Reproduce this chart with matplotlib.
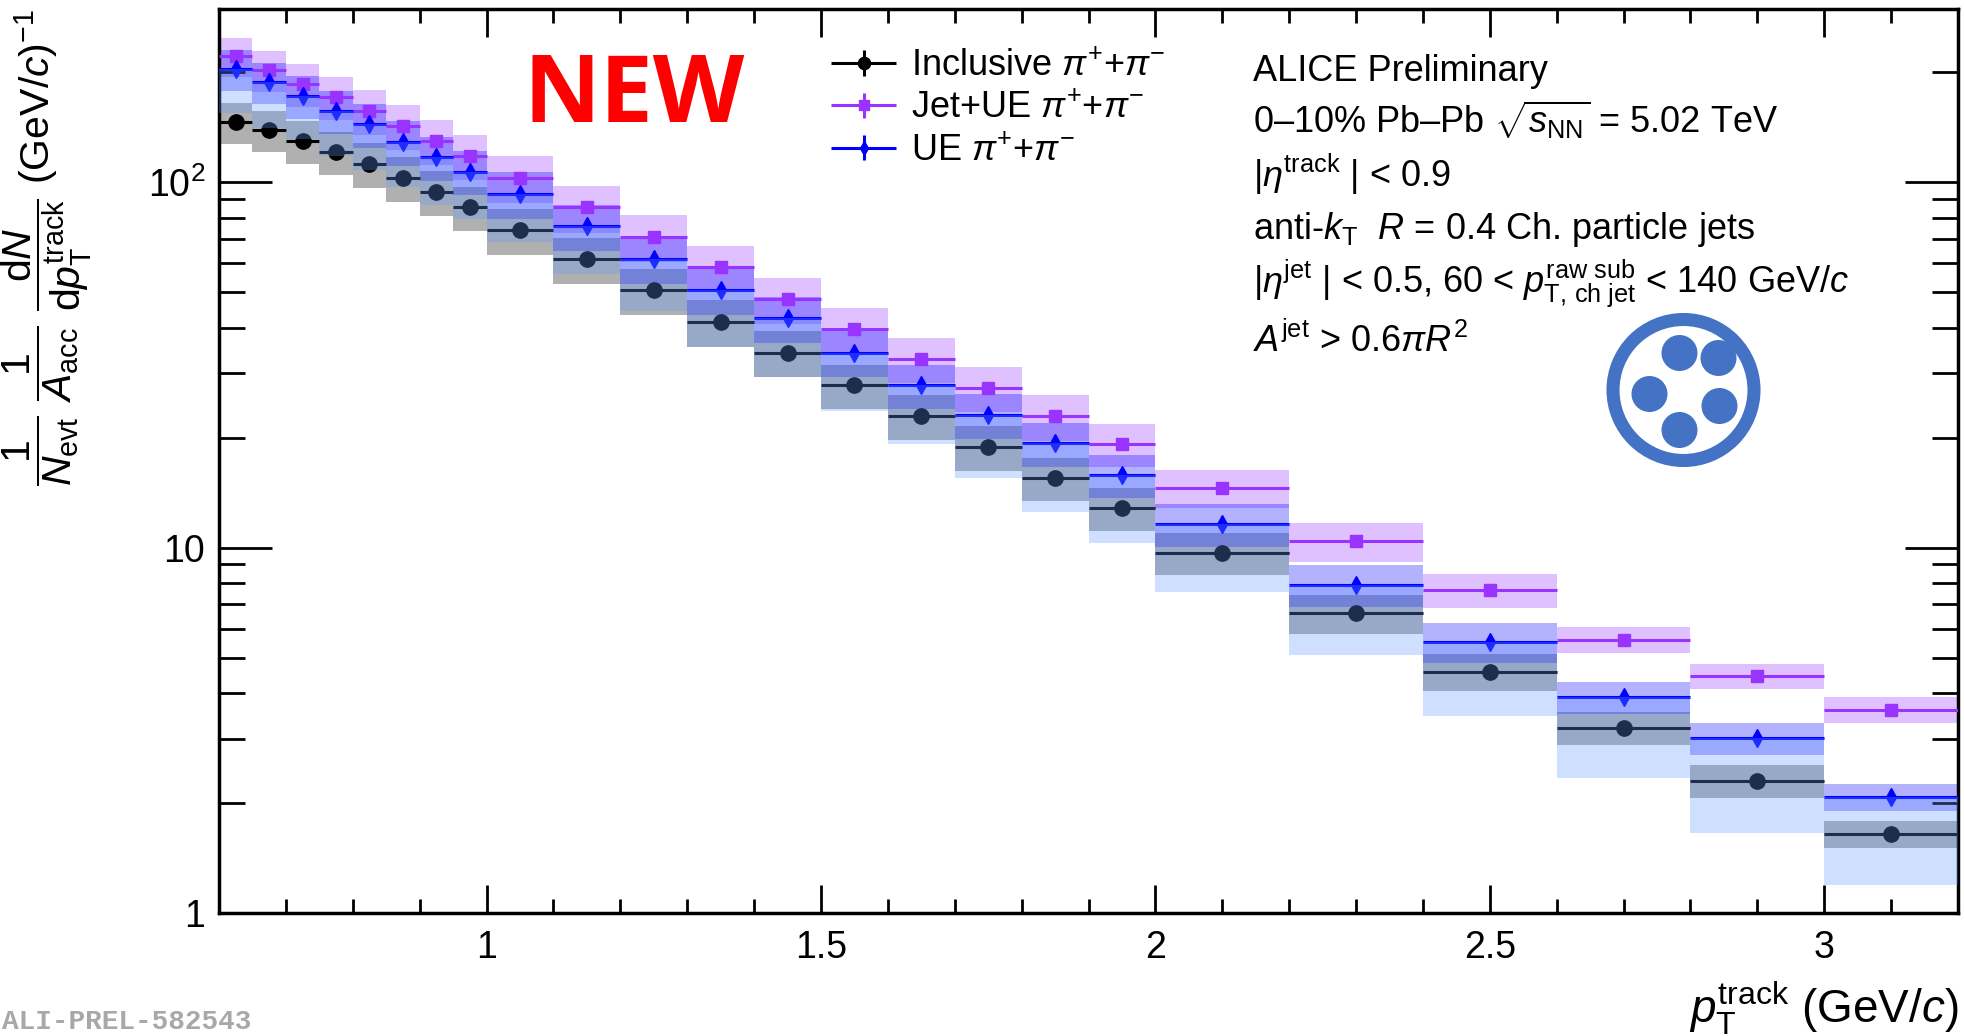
import numpy as np
import matplotlib
matplotlib.use('Agg')
import matplotlib.pyplot as plt
from matplotlib.ticker import MultipleLocator, LogLocator, FuncFormatter, NullFormatter, FormatStrFormatter
from matplotlib.legend_handler import HandlerErrorbar
from matplotlib.container import ErrorbarContainer
from matplotlib.patches import Circle

plt.rcParams['font.family'] = ['Liberation Sans', 'DejaVu Sans']
plt.rcParams['mathtext.fontset'] = 'custom'
plt.rcParams['mathtext.rm'] = 'Liberation Sans'
plt.rcParams['mathtext.it'] = 'Liberation Sans:italic'
plt.rcParams['mathtext.bf'] = 'Liberation Sans:bold'

# pT^track bins (GeV/c)
bin_edges = [0.6, 0.65, 0.7, 0.75, 0.8, 0.85, 0.9, 0.95, 1.0,
             1.1, 1.2, 1.3, 1.4, 1.5, 1.6, 1.7, 1.8, 1.9, 2.0,
             2.2, 2.4, 2.6, 2.8, 3.0, 3.2]

# yields
incl = [146, 139, 130, 121, 112, 103, 94.1, 85.4, 73.9, 61.5, 50.6, 41.5,
        34.2, 27.8, 22.9, 18.9, 15.5, 12.8, 9.68, 6.62, 4.58, 3.21, 2.30, 1.65]
jet_ue = [221, 203, 186, 171, 157, 143, 130, 118, 103, 85.3, 70.8, 58.5,
          47.8, 39.6, 32.9, 27.3, 22.9, 19.2, 14.6, 10.4, 7.67, 5.60, 4.45, 3.60]
ue = [204, 188, 172, 157, 144, 129, 117, 107, 92.9, 75.7, 61.6, 50.7,
      42.4, 34.2, 27.8, 23.1, 19.3, 15.8, 11.6, 7.92, 5.52, 3.90, 3.01, 2.08]

# relative systematic uncertainties (box half heights)
incl_sys = [0.13, 0.13, 0.135, 0.135, 0.14, 0.14, 0.14, 0.14, 0.146, 0.146, 0.145, 0.145,
            0.145, 0.14, 0.14, 0.14, 0.135, 0.135, 0.131, 0.122, 0.115, 0.104, 0.103, 0.085]
jet_ue_sys = [0.123, 0.129, 0.134, 0.136, 0.141, 0.141, 0.141, 0.141, 0.148, 0.148, 0.148, 0.144,
              0.145, 0.146, 0.141, 0.141, 0.144, 0.134, 0.12, 0.122, 0.106, 0.083, 0.078, 0.083]
ue_sys = [0.13, 0.13, 0.135, 0.135, 0.14, 0.14, 0.14, 0.14, 0.145, 0.145, 0.145, 0.145,
          0.145, 0.145, 0.14, 0.14, 0.14, 0.135, 0.132, 0.129, 0.124, 0.10, 0.10, 0.086]
# lower edge of the one-sided UE band (upper edge = UE value)
ue_band_low = [155, 141, 131, 118, 108, 96.8, 86.6, 79.2, 68.7, 56.0, 44.4, 35.5,
               29.3, 23.6, 19.2, 15.5, 12.5, 10.3, 7.55, 5.07, 3.45, 2.34, 1.66, 1.19]

labels = [r'Inclusive $\pi^{+}$+$\pi^{-}$', r'Jet+UE $\pi^{+}$+$\pi^{-}$', r'UE $\pi^{+}$+$\pi^{-}$']

info_lines = ['ALICE Preliminary',
              r'0–10% Pb–Pb $\sqrt{s_{\rm NN}}$ = 5.02 TeV',
              r'|$\eta^{\rm track}$ | < 0.9',
              r'anti-$k_{\rm T}$  $R$ = 0.4 Ch. particle jets',
              r'|$\eta^{\rm jet}$ | < 0.5, 60 < $p_{\rm T,\,ch\ jet}^{\rm raw\ sub}$ < 140 GeV/$c$',
              r'$A^{\rm jet}$ > 0.6$\pi R^{2}$']

edges = np.array(bin_edges)
x = 0.5 * (edges[1:] + edges[:-1])
xw = np.diff(edges)

W, H = 1964, 1036
fig = plt.figure(figsize=(W / 100, H / 100), dpi=100)
ax = fig.add_axes([219 / W, 1 - 913 / H, 1739 / W, 904 / H])


def sys_boxes(vals, rel, color, alpha, z):
    v = np.array(vals)
    r = np.array(rel)
    ax.bar(x, 2 * r * v, bottom=v * (1 - r), width=xw, align='center',
           color=color, alpha=alpha, lw=0, zorder=z)


sys_boxes(incl, incl_sys, 'black', 0.31, 1.1)
sys_boxes(jet_ue, jet_ue_sys, '#9933ff', 0.3, 1.2)
sys_boxes(ue, ue_sys, '#0000ff', 0.3, 1.3)

styles = [(incl, 'o', 'black', 11), (jet_ue, 's', '#9933ff', 8.6), (ue, 'd', '#0000ff', 9)]
handles = []
for vals, mk, col, ms in styles:
    ax.errorbar(x, vals, xerr=xw / 2, fmt=mk, color=col, ms=ms, elinewidth=2.2,
                capsize=0, zorder=3)
    # proxy for the legend (line + stat bar)
    h = ax.errorbar([np.nan], [np.nan], xerr=[1], yerr=[1], fmt=mk, color=col, ms=ms * 0.8,
                    elinewidth=2.2, capsize=0)
    handles.append(h)

ub = np.array(ue)
ax.bar(x, ub - np.array(ue_band_low), bottom=ue_band_low, width=xw, align='center',
       color=(0.39, 0.59, 1.0), alpha=0.3, lw=0, zorder=4)

ax.set_yscale('log')
ax.set_xlim(0.6, 3.2)
ax.set_ylim(1, 298)

ax.xaxis.set_major_locator(MultipleLocator(0.5))
ax.xaxis.set_minor_locator(MultipleLocator(0.1))
ax.xaxis.set_major_formatter(FormatStrFormatter('%g'))
ax.yaxis.set_major_locator(LogLocator(base=10))
ax.yaxis.set_minor_locator(LogLocator(base=10, subs=np.arange(2, 10)))
ax.yaxis.set_minor_formatter(NullFormatter())
ylab = {1: '1', 10: '10', 100: '$10^{2}$'}
ax.yaxis.set_major_formatter(FuncFormatter(lambda v, p: ylab.get(int(round(v)), '')))

ax.tick_params(which='both', direction='in', top=True, right=True, width=2, labelsize=27)
ax.tick_params(axis='x', which='major', length=20, pad=12)
ax.tick_params(axis='x', which='minor', length=10)
ax.tick_params(axis='y', which='major', length=38, pad=10)
ax.tick_params(axis='y', which='minor', length=19)
for s in ax.spines.values():
    s.set_linewidth(2.5)

ax.set_xlabel(r'$p_{\rm T}^{\rm track}$ (GeV/$c$)', fontsize=33, loc='right', labelpad=10)
ax.set_ylabel(r'$\dfrac{1}{N_{\rm evt}}\ \dfrac{1}{A_{\rm acc}}\ '
              r'\dfrac{{\rm d}N}{{\rm d}p_{\rm T}^{\rm track}}$ (GeV/$c$)$^{-1}$',
              fontsize=29.5, loc='top')
ax.yaxis.set_label_coords(-0.072, 1.0)

ax.legend(handles, labels, loc='upper left', bbox_to_anchor=(0.351, 0.956),
          frameon=False, fontsize=26, handlelength=1.9, handletextpad=0.35,
          labelspacing=0.2, borderpad=0, borderaxespad=0,
          handler_map={ErrorbarContainer: HandlerErrorbar(xerr_size=0.9, yerr_size=0.35)})

for t, yb in zip(info_lines, [80.7, 133.3, 186.7, 239.3, 291.7, 351.7]):
    fig.text(1253 / W, 1 - yb / H, t, fontsize=26, va='baseline', ha='left')

fig.text(524 / W, 1 - 121.5 / H, 'NEW', fontsize=68, fontweight='bold', color='#ff0000',
         family=['Open Sans', 'Noto Sans'], va='baseline')

fig.text(2 / W, 1 / H, 'ALI-PREL-582543', family='Liberation Mono', fontweight='bold',
         fontsize=20, color='#a8a8a8', va='bottom', ha='left')

# ALICE-style jet logo
lax = fig.add_axes([1600 / W, 1 - 473 / H, 167 / W, 166 / H])
lax.set_xlim(1600, 1767)
lax.set_ylim(473, 307)
lax.axis('off')
lax.add_patch(Circle((1683.5, 390), 70.5, fill=False, lw=9.4, color='#4472c4'))
for dx, dy in [(-4, -37), (35, -32), (-34, 4), (36, 16), (-4, 40)]:
    lax.add_patch(Circle((1683.5 + dx, 390 + dy), 18, color='#4472c4', lw=0))

fig.savefig('out.png', dpi=100)
